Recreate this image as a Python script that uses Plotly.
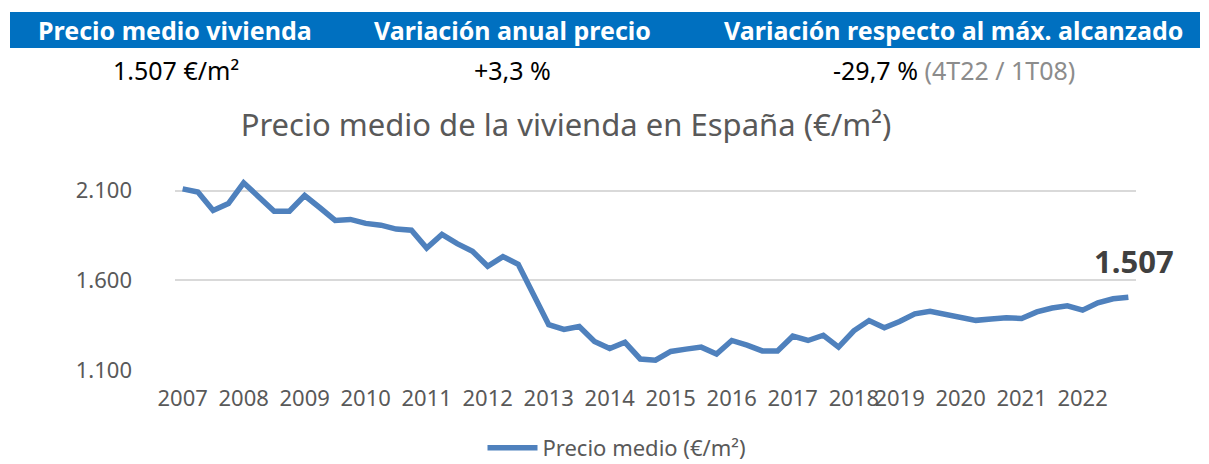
import plotly.graph_objects as go

# Average housing price in Spain (EUR/m2), one value per quarter, 1T07 .. 4T22
# (2018 has three quarterly observations)
quarter_years = ([2007] * 4 + [2008] * 4 + [2009] * 4 + [2010] * 4 + [2011] * 4 +
                 [2012] * 4 + [2013] * 4 + [2014] * 4 + [2015] * 4 + [2016] * 4 +
                 [2017] * 4 + [2018] * 3 + [2019] * 4 + [2020] * 4 + [2021] * 4 +
                 [2022] * 4)
precio_medio = [
    2110, 2092, 1990, 2028,
    2144, 2068, 1985, 1986,
    2073, 2005, 1934, 1940,
    1918, 1908, 1886, 1880,
    1781, 1856, 1805, 1763,
    1679, 1733, 1690, 1522,
    1354, 1328, 1344, 1261,
    1221, 1256, 1163, 1156,
    1205, 1218, 1229, 1191,
    1266, 1240, 1208, 1208,
    1290, 1266, 1295, 1229,
    1320, 1377, 1337,
    1372, 1414, 1429, 1410,
    1396, 1378, 1386, 1393,
    1388, 1425, 1447, 1459,
    1435, 1476, 1498, 1507,
]
y_ticks = [1100, 1600, 2100]

header_titles = ["Precio medio vivienda", "Variación anual precio",
                 "Variación respecto al máx. alcanzado"]
header_values = ["1.507 €/m²", "+3,3 %", "-29,7 %"]
max_note = "(4T22 / 1T08)"

W, H = 1209, 464
BLUE = "#4F81BD"
GREY = "#595959"
FONT = "Noto Sans"


def fx(x):
    return x / W


def fy(y):
    return 1 - y / H


idx = list(range(len(precio_medio)))
# first quarter of every year carries the year label
tick_pos = [i for i, yr in enumerate(quarter_years) if i == 0 or quarter_years[i - 1] != yr]
tick_txt = [str(quarter_years[i]) for i in tick_pos]

fig = go.Figure()
fig.add_trace(go.Scatter(
    x=idx, y=precio_medio, mode="lines", name="Precio medio (€/m²)",
    line=dict(color=BLUE, width=5.5),
))

last_val = precio_medio[-1]
fig.add_annotation(
    x=idx[-1], y=last_val, xref="x", yref="y",
    text=f"<b>{last_val:,}</b>".replace(",", "."),
    showarrow=False, xshift=6, yshift=36,
    xanchor="center", yanchor="middle",
    font=dict(family=FONT, size=31, color="#404040"),
)

# header band
fig.add_shape(type="rect", xref="paper", yref="paper",
              x0=fx(10), x1=fx(1200), y0=fy(48), y1=fy(12),
              fillcolor="#0070C0", line=dict(width=0), layer="below")
header_x = [175, 512, 953]
for cx, t in zip(header_x, header_titles):
    fig.add_annotation(x=fx(cx), y=fy(30), xref="paper", yref="paper",
                       xanchor="center", yanchor="middle",
                       text=f"<b>{t}</b>", showarrow=False,
                       font=dict(family=FONT, size=25, color="white"))
value_x = [176, 512, 954]
value_texts = [header_values[0], header_values[1],
               f"{header_values[2]} <span style='color:#8C8C8C'>{max_note}</span>"]
for cx, t in zip(value_x, value_texts):
    fig.add_annotation(x=fx(cx), y=fy(70), xref="paper", yref="paper",
                       xanchor="center", yanchor="middle",
                       text=t, showarrow=False,
                       font=dict(family=FONT, size=25, color="black"))

fig.update_layout(
    width=W, height=H,
    margin=dict(l=0, r=0, t=0, b=0, autoexpand=False),
    paper_bgcolor="white", plot_bgcolor="white",
    separators=",.",
    title=dict(text="Precio medio de la vivienda en España (€/m²)",
               x=fx(566), xanchor="center", y=fy(125), yanchor="middle",
               font=dict(family=FONT, size=31, color=GREY)),
    xaxis=dict(
        domain=[fx(175), fx(1136)], range=[-0.5, len(idx) - 0.5],
        tickvals=tick_pos, ticktext=tick_txt, tickangle=0,
        showgrid=False, zeroline=False, showline=False, automargin=False,
        ticks="", ticklabelstandoff=13,
        tickfont=dict(family=FONT, size=22, color=GREY),
    ),
    yaxis=dict(
        domain=[fy(370.3), fy(172.7)], range=[1100, 2200],
        tickvals=y_ticks, tickformat=",d", automargin=False,
        showgrid=True, gridcolor="#D9D9D9", gridwidth=2,
        zeroline=False, showline=False, ticks="", ticklabelstandoff=42,
        tickfont=dict(family=FONT, size=22, color=GREY),
    ),
    showlegend=True,
    legend=dict(orientation="h", x=fx(617), xanchor="center",
                y=fy(448), yanchor="middle",
                bgcolor="rgba(0,0,0,0)",
                font=dict(family=FONT, size=22, color=GREY),
                itemwidth=50),
)

fig.write_html("out.html")
